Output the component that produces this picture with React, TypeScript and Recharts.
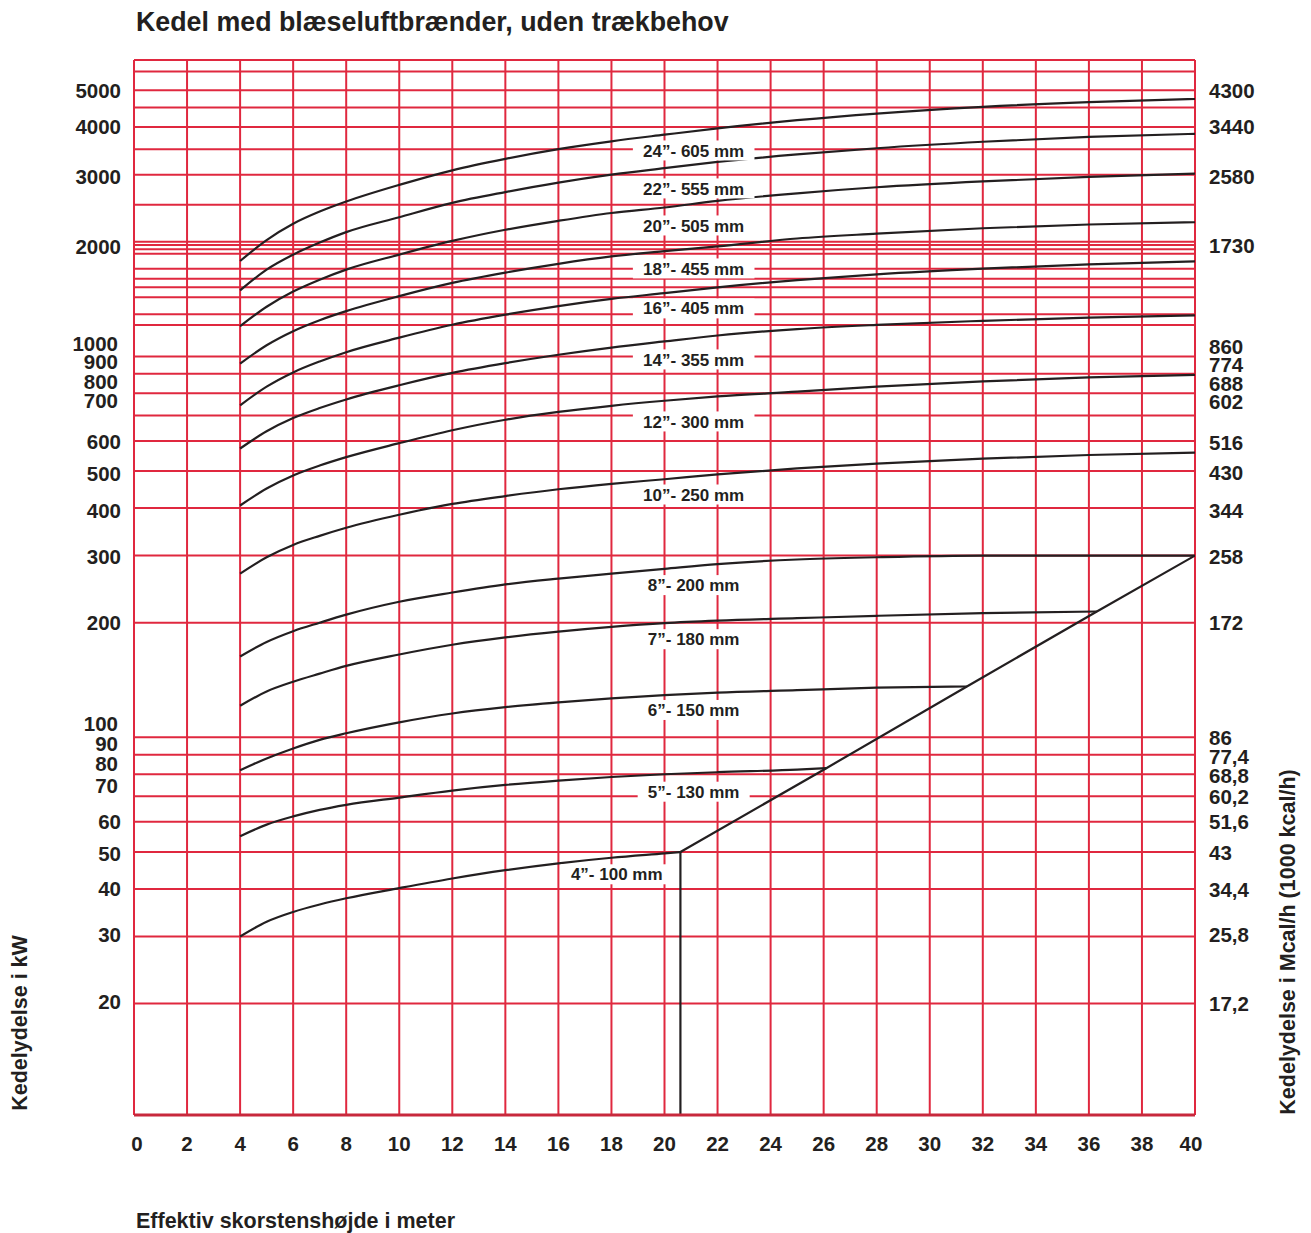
import React from 'react';
import { LineChart, Line, XAxis, YAxis, CartesianGrid } from 'recharts';

// effective chimney height (m) where the curves were read
const heights = [4, 5, 6, 7, 8, 10, 12, 14, 16, 18, 20, 22, 25, 28, 32, 36, 40];
const heights7 = [4, 5, 6, 7, 8, 10, 12, 14, 16, 18, 20, 22, 25, 28, 32, 36.3];
const heights6 = [4, 5, 6, 7, 8, 10, 12, 14, 16, 18, 20, 22, 25, 28, 31.4];
const heights5 = [4, 5, 6, 7, 8, 10, 12, 14, 16, 18, 20, 22, 25, 26.1];
const heights4 = [4, 5, 6, 7, 8, 10, 12, 14, 16, 18, 20, 20.6];

// boiler output kW per chimney diameter
const kw24 = [1780, 2020, 2230, 2400, 2550, 2820, 3080, 3300, 3500, 3670, 3820, 3970, 4170, 4340, 4520, 4650, 4740];
const kw22 = [1490, 1690, 1850, 1990, 2120, 2320, 2530, 2700, 2860, 3000, 3120, 3240, 3390, 3520, 3660, 3770, 3840];
const kw20 = [1200, 1350, 1480, 1590, 1690, 1850, 2010, 2150, 2270, 2380, 2460, 2560, 2680, 2780, 2880, 2960, 3020];
const kw18 = [957, 1070, 1165, 1245, 1315, 1440, 1560, 1660, 1750, 1830, 1890, 1945, 2040, 2100, 2170, 2220, 2250];
const kw16 = [744, 833, 908, 970, 1026, 1120, 1211, 1287, 1356, 1416, 1466, 1518, 1586, 1642, 1700, 1745, 1776];
const kw14 = [573, 636, 689, 732, 771, 840, 905, 960, 1010, 1055, 1095, 1135, 1180, 1210, 1240, 1265, 1281];
const kw12 = [406, 450, 487, 517, 544, 592, 640, 682, 715, 742, 765, 785, 808, 833, 860, 881, 894];
const kw10 = [269, 297, 320, 338, 355, 384, 410, 430, 448, 463, 476, 490, 508, 523, 539, 551, 559];
const kw8 = [163, 178, 190, 200, 210, 227, 240, 252, 261, 269, 277, 285, 293, 297, 300, 300, 300];
const kw7 = [121, 132, 140, 147, 154, 165, 175, 183, 189.5, 195, 199.5, 202.5, 205.5, 208.5, 212, 214];
const kw6 = [82, 88, 93.5, 98.5, 102.5, 109.5, 115.5, 120, 123.5, 126.5, 129, 131, 133, 135, 136];
const kw5 = [55, 59, 62, 64.5, 66.5, 69.5, 72.5, 75, 77, 78.7, 80, 81, 82.3, 83];
const kw4 = [30, 32.8, 34.8, 36.4, 37.8, 40.2, 42.6, 44.8, 46.7, 48.3, 49.6, 50];

// limit line and the drop at the 4" end
const limitHeights = [20.6, 26.1, 31.4, 36.3, 40];
const limitKw = [50, 83, 136, 214, 300];
const dropHeights = [20.6, 20.6];
const dropKw = [50, 10.2];

const pipeNames = [
  '24”- 605 mm', '22”- 555 mm', '20”- 505 mm', '18”- 455 mm', '16”- 405 mm', '14”- 355 mm',
  '12”- 300 mm', '10”- 250 mm', '8”- 200 mm', '7”- 180 mm', '6”- 150 mm', '5”- 130 mm', '4”- 100 mm',
];
const labelHeights = [21.1, 21.1, 21.1, 21.1, 21.1, 21.1, 21.1, 21.1, 21.1, 21.1, 21.1, 21.1, 18.2];
const labelKw = [3473, 2761, 2207, 1702, 1337, 982, 675, 434, 251, 181, 118, 72, 43.7];

const xTicks = [0, 2, 4, 6, 8, 10, 12, 14, 16, 18, 20, 22, 24, 26, 28, 30, 32, 34, 36, 38, 40];
const kwTicks = [20, 30, 40, 50, 60, 70, 80, 90, 100, 200, 300, 400, 500, 600, 700, 800, 900, 1000, 2000, 3000, 4000, 5000];
const mcalLabels = ['17,2', '25,8', '34,4', '43', '51,6', '60,2', '68,8', '77,4', '86', '172', '258', '344', '430', '516', '602', '688', '774', '860', '1730', '2580', '3440', '4300'];
const gridKw = [20, 30, 40, 50, 60, 70, 80, 90, 100, 200, 300, 400, 500, 600, 700, 800, 900, 1000,
  1210, 1290, 1430, 1520, 1600, 1700, 1860, 1910, 1960, 2000, 2500, 3000, 3500, 4000, 4500, 5000, 5600];

const curves = [
  { x: heights, y: kw24 }, { x: heights, y: kw22 }, { x: heights, y: kw20 }, { x: heights, y: kw18 },
  { x: heights, y: kw16 }, { x: heights, y: kw14 }, { x: heights, y: kw12 }, { x: heights, y: kw10 },
  { x: heights, y: kw8 }, { x: heights7, y: kw7 }, { x: heights6, y: kw6 }, { x: heights5, y: kw5 },
  { x: heights4, y: kw4 },
];
const toPts = (xs: number[], ys: number[]) => xs.map((h, i) => ({ h, kw: ys[i] }));

const FONT = '"Liberation Sans", Arial, Helvetica, sans-serif';
const INK = '#231f20';
const RED = '#e0283f';

// the stacked labels in the original sit a little off their grid lines
const leftNudge: Record<number, [number, number]> = {
  3000: [0, 2], 2000: [0, 4.5], 1000: [-3, -12.5], 900: [-3, -12], 800: [-3, -11.5], 700: [-3, -15],
  600: [0, 1], 500: [0, 2.5], 400: [0, 3], 300: [0, 1], 100: [-3, -13.5], 90: [-3, -11], 80: [-3, -10.5],
  70: [-3, -10.5], 50: [0, 1.5], 30: [0, -2], 20: [0, -1.5],
};
const rightNudge: Record<number, number> = {
  3000: 1.5, 2000: 4, 1000: -10, 900: -9, 800: -10, 700: -14, 600: 2, 500: 2, 400: 3, 300: 1,
  90: 1.5, 80: 1.5, 50: 1, 40: 1, 30: -1.5,
};

const LeftTick = (props: any) => {
  const { x, y, payload } = props;
  const v = payload.value;
  if (kwTicks.indexOf(v) < 0) return <g />;
  const [dx, dy] = leftNudge[v] || [0, 0];
  return (
    <text x={x + dx} y={y + dy} dy="0.36em" textAnchor="end" fontFamily={FONT} fontWeight="bold" fontSize={20.5} fill={INK}>
      {v}
    </text>
  );
};

const RightTick = (props: any) => {
  const { x, y, payload } = props;
  const i = kwTicks.indexOf(payload.value);
  if (i < 0) return <g />;
  return (
    <text x={x} y={y + (rightNudge[payload.value] || 0)} dy="0.36em" textAnchor="start" fontFamily={FONT} fontWeight="bold" fontSize={20.5} fill={INK}>
      {mcalLabels[i]}
    </text>
  );
};

const XTick = (props: any) => {
  const { x, y, payload } = props;
  const dx = payload.value === 0 ? 3 : payload.value === 40 ? -4 : 0;
  return (
    <text x={x + dx} y={y + 29} dy="0.36em" textAnchor="middle" fontFamily={FONT} fontWeight="bold" fontSize={20.5} fill={INK}>
      {payload.value}
    </text>
  );
};

const PipeLabel = (props: any) => {
  const { cx, cy, payload, index } = props;
  const w = payload.name.length * 9.6 + 16;
  return (
    <g key={'pipe-' + index}>
      <rect x={cx - w / 2} y={cy - 10} width={w} height={20} fill="#fff" />
      <text x={cx} y={cy} dy="0.36em" textAnchor="middle" fontFamily={FONT} fontWeight="bold" fontSize={17} fill={INK}>
        {payload.name}
      </text>
    </g>
  );
};

const labelPts = pipeNames.map((name, i) => ({ h: labelHeights[i], kw: labelKw[i], name }));

const App = () => {
  return (
    <div style={{ position: 'relative', width: 1311, height: 1233, fontFamily: FONT, color: INK }}>
      <style>{'body{margin:0;overflow:hidden}'}</style>
      <div style={{ position: 'absolute', left: 136, top: 9, fontSize: 26.8, fontWeight: 'bold', lineHeight: 1, whiteSpace: 'nowrap' }}>
        Kedel med blæseluftbrænder, uden trækbehov
      </div>
      <LineChart width={1311} height={1233} margin={{ top: 60, right: 0, bottom: 0, left: 0 }}>
        <CartesianGrid stroke={RED} strokeWidth={2} />
        <XAxis
          dataKey="h"
          type="number"
          domain={[0, 40]}
          allowDataOverflow
          ticks={xTicks}
          interval={0}
          height={118}
          tickLine={false}
          tickSize={0}
          tickMargin={0}
          axisLine={{ stroke: '#c8283c', strokeWidth: 3 }}
          tick={(p: any) => <XTick {...p} />}
        />
        <YAxis
          type="number"
          scale="log"
          domain={[10.2, 6000]}
          allowDataOverflow
          ticks={gridKw}
          interval={0}
          width={134}
          tickLine={false}
          axisLine={false}
          tickSize={0}
          tickMargin={13}
          tick={(p: any) => <LeftTick {...p} />}
        />
        <YAxis
          yAxisId="mcal"
          orientation="right"
          type="number"
          scale="log"
          domain={[10.2, 6000]}
          allowDataOverflow
          ticks={kwTicks}
          interval={0}
          width={116}
          tickLine={false}
          axisLine={false}
          tickSize={0}
          tickMargin={14}
          tick={(p: any) => <RightTick {...p} />}
        />
        {curves.map((c, i) => (
          <Line
            key={'c' + i}
            data={toPts(c.x, c.y)}
            dataKey="kw"
            type="monotone"
            stroke={INK}
            strokeWidth={2.2}
            dot={false}
            activeDot={false}
            isAnimationActive={false}
          />
        ))}
        <Line data={toPts(limitHeights, limitKw)} dataKey="kw" type="linear" stroke={INK} strokeWidth={2.2} dot={false} activeDot={false} isAnimationActive={false} />
        <Line data={toPts(dropHeights, dropKw)} dataKey="kw" type="linear" stroke={INK} strokeWidth={2.2} dot={false} activeDot={false} isAnimationActive={false} />
        <Line
          data={labelPts}
          dataKey="kw"
          type="linear"
          stroke="none"
          dot={(p: any) => <PipeLabel {...p} />}
          activeDot={false}
          isAnimationActive={false}
        />
      </LineChart>
      <div style={{ position: 'absolute', left: 136, top: 1211, fontSize: 21.5, fontWeight: 'bold', lineHeight: 1, whiteSpace: 'nowrap' }}>
        Effektiv skorstenshøjde i meter
      </div>
      <div style={{ position: 'absolute', left: 21, top: 1023, fontSize: 21.5, fontWeight: 'bold', lineHeight: 1, whiteSpace: 'nowrap', transform: 'translate(-50%, -50%) rotate(-90deg)' }}>
        Kedelydelse i kW
      </div>
      <div style={{ position: 'absolute', left: 1289, top: 942, fontSize: 21.5, fontWeight: 'bold', lineHeight: 1, whiteSpace: 'nowrap', transform: 'translate(-50%, -50%) rotate(-90deg)' }}>
        Kedelydelse i Mcal/h (1000 kcal/h)
      </div>
    </div>
  );
};

export default App;
